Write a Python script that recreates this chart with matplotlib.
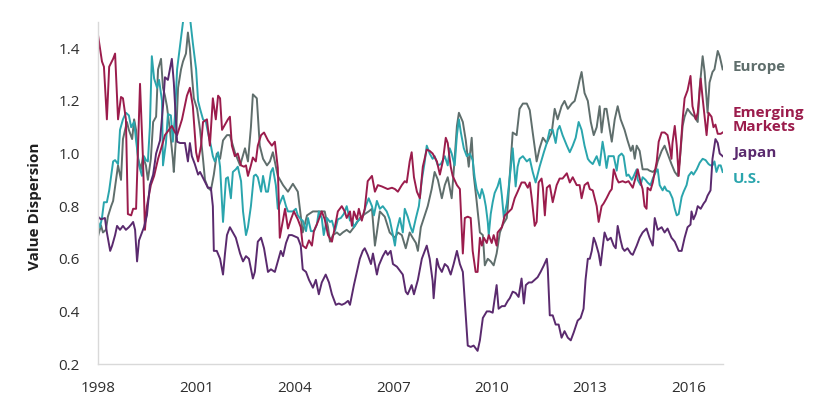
import matplotlib
matplotlib.use("Agg")
import matplotlib.pyplot as plt
import matplotlib.transforms as mtransforms

# Value dispersion by region (decimal years)
europe_years = [
    1998.00, 1998.09, 1998.15, 1998.24, 1998.30, 1998.40, 1998.46, 1998.55, 1998.61, 1998.70,
    1998.76, 1998.88, 1998.94, 1999.04, 1999.10, 1999.16, 1999.22, 1999.31, 1999.37, 1999.46,
    1999.52, 1999.61, 1999.68, 1999.77, 1999.83, 1999.92, 1999.98, 2000.04, 2000.10, 2000.19,
    2000.28, 2000.31, 2000.38, 2000.44, 2000.53, 2000.59, 2000.68, 2000.74, 2000.80, 2000.86,
    2000.92, 2001.02, 2001.11, 2001.20, 2001.26, 2001.35, 2001.44, 2001.53, 2001.62, 2001.72,
    2001.81, 2001.93, 2002.02, 2002.17, 2002.33, 2002.48, 2002.57, 2002.66, 2002.72, 2002.84,
    2002.93, 2003.03, 2003.15, 2003.24, 2003.33, 2003.48, 2003.64, 2003.79, 2003.94, 2004.09,
    2004.24, 2004.37, 2004.55, 2004.76, 2004.91, 2005.01, 2005.07, 2005.16, 2005.28, 2005.37,
    2005.46, 2005.58, 2005.68, 2005.83, 2005.98, 2006.13, 2006.25, 2006.35, 2006.44, 2006.50,
    2006.59, 2006.74, 2006.89, 2007.05, 2007.14, 2007.26, 2007.38, 2007.50, 2007.59, 2007.69,
    2007.75, 2007.84, 2007.96, 2008.05, 2008.17, 2008.26, 2008.36, 2008.48, 2008.57, 2008.66,
    2008.78, 2008.87, 2008.94, 2009.00, 2009.12, 2009.21, 2009.30, 2009.39, 2009.45, 2009.54,
    2009.64, 2009.73, 2009.79, 2009.88, 2009.97, 2010.06, 2010.15, 2010.25, 2010.34, 2010.46,
    2010.49, 2010.55, 2010.64, 2010.76, 2010.85, 2010.95, 2011.07, 2011.16, 2011.25, 2011.37,
    2011.46, 2011.56, 2011.68, 2011.83, 2011.92, 2012.01, 2012.13, 2012.22, 2012.32, 2012.44,
    2012.53, 2012.62, 2012.68, 2012.74, 2012.83, 2012.93, 2013.02, 2013.11, 2013.20, 2013.29,
    2013.35, 2013.44, 2013.50, 2013.60, 2013.66, 2013.75, 2013.84, 2013.93, 2014.05, 2014.14,
    2014.24, 2014.30, 2014.36, 2014.42, 2014.51, 2014.60, 2014.66, 2014.75, 2014.81, 2014.91,
    2015.00, 2015.06, 2015.18, 2015.27, 2015.36, 2015.48, 2015.58, 2015.67, 2015.73, 2015.82,
    2015.88, 2015.97, 2016.09, 2016.18, 2016.28, 2016.34, 2016.40, 2016.43, 2016.49, 2016.58,
    2016.64, 2016.73, 2016.79, 2016.89, 2016.95, 2017.04,
]
europe_values = [
    0.685, 0.727, 0.70, 0.71, 0.76, 0.80, 0.82, 0.90, 0.955, 0.90,
    1.055, 1.12, 1.09, 1.055, 1.13, 1.09, 0.98, 0.94, 0.99, 0.955,
    0.90, 0.98, 1.12, 1.14, 1.32, 1.36, 1.25, 1.22, 1.18, 1.09,
    0.98, 0.93, 1.07, 1.25, 1.32, 1.35, 1.38, 1.46, 1.40, 1.30,
    1.21, 1.17, 1.09, 0.98, 0.90, 0.87, 0.86, 0.92, 1.00, 0.98,
    1.05, 1.07, 1.07, 1.005, 0.955, 1.02, 0.97, 1.10, 1.225, 1.21,
    1.03, 0.98, 0.955, 0.97, 1.005, 0.915, 0.88, 0.855, 0.885, 0.855,
    0.70, 0.765, 0.78, 0.78, 0.78, 0.72, 0.665, 0.69, 0.70, 0.69,
    0.70, 0.71, 0.70, 0.725, 0.755, 0.77, 0.78, 0.79, 0.65, 0.70,
    0.78, 0.76, 0.70, 0.68, 0.70, 0.69, 0.64, 0.70, 0.68, 0.66,
    0.63, 0.72, 0.765, 0.80, 0.865, 0.93, 0.90, 0.83, 0.88, 0.91,
    0.83, 0.98, 1.105, 1.155, 1.12, 1.05, 0.95, 1.06, 0.92, 0.82,
    0.70, 0.69, 0.575, 0.60, 0.59, 0.575, 0.62, 0.70, 0.73, 0.755,
    0.80, 0.915, 1.08, 1.07, 1.17, 1.19, 1.19, 1.165, 1.08, 0.97,
    1.02, 1.06, 1.04, 1.08, 1.17, 1.13, 1.18, 1.20, 1.17, 1.19,
    1.20, 1.245, 1.28, 1.31, 1.23, 1.20, 1.12, 1.07, 1.10, 1.18,
    1.08, 1.17, 1.17, 1.09, 1.045, 1.13, 1.18, 1.13, 1.09, 1.05,
    1.01, 1.03, 0.98, 1.03, 1.01, 0.94, 0.94, 0.94, 0.935, 0.93,
    0.94, 0.97, 1.01, 1.03, 1.00, 0.96, 0.93, 0.915, 0.97, 1.105,
    1.14, 1.17, 1.15, 1.14, 1.12, 1.25, 1.33, 1.37, 1.31, 1.155,
    1.27, 1.31, 1.32, 1.39, 1.37, 1.32,
]

em_years = [
    1998.00, 1998.12, 1998.18, 1998.27, 1998.34, 1998.46, 1998.52, 1998.61, 1998.70, 1998.76,
    1998.85, 1998.91, 1999.01, 1999.07, 1999.16, 1999.28, 1999.37, 1999.43, 1999.49, 1999.61,
    1999.71, 1999.83, 1999.95, 2000.04, 2000.16, 2000.25, 2000.35, 2000.41, 2000.56, 2000.71,
    2000.80, 2000.89, 2000.99, 2001.05, 2001.14, 2001.20, 2001.32, 2001.41, 2001.50, 2001.59,
    2001.66, 2001.72, 2001.78, 2001.87, 2001.96, 2002.02, 2002.08, 2002.17, 2002.26, 2002.36,
    2002.45, 2002.51, 2002.57, 2002.66, 2002.72, 2002.81, 2002.87, 2002.97, 2003.06, 2003.18,
    2003.30, 2003.39, 2003.48, 2003.54, 2003.64, 2003.70, 2003.79, 2003.88, 2003.97, 2004.09,
    2004.18, 2004.24, 2004.34, 2004.43, 2004.52, 2004.58, 2004.70, 2004.82, 2004.91, 2005.01,
    2005.13, 2005.22, 2005.31, 2005.43, 2005.52, 2005.58, 2005.68, 2005.74, 2005.80, 2005.89,
    2005.95, 2006.04, 2006.13, 2006.22, 2006.35, 2006.44, 2006.53, 2006.65, 2006.74, 2006.83,
    2006.96, 2007.05, 2007.14, 2007.26, 2007.35, 2007.41, 2007.50, 2007.56, 2007.63, 2007.72,
    2007.81, 2007.90, 2008.02, 2008.11, 2008.20, 2008.33, 2008.42, 2008.51, 2008.60, 2008.66,
    2008.75, 2008.81, 2008.94, 2009.03, 2009.12, 2009.18, 2009.27, 2009.36, 2009.42, 2009.51,
    2009.57, 2009.64, 2009.70, 2009.76, 2009.85, 2009.91, 2010.00, 2010.06, 2010.15, 2010.18,
    2010.31, 2010.40, 2010.49, 2010.61, 2010.70, 2010.79, 2010.91, 2011.01, 2011.10, 2011.16,
    2011.22, 2011.31, 2011.37, 2011.43, 2011.52, 2011.56, 2011.62, 2011.68, 2011.77, 2011.86,
    2011.98, 2012.07, 2012.16, 2012.29, 2012.38, 2012.47, 2012.59, 2012.68, 2012.74, 2012.83,
    2012.93, 2012.99, 2013.08, 2013.20, 2013.26, 2013.35, 2013.41, 2013.50, 2013.60, 2013.66,
    2013.72, 2013.81, 2013.87, 2013.99, 2014.08, 2014.17, 2014.30, 2014.39, 2014.45, 2014.54,
    2014.60, 2014.66, 2014.72, 2014.75, 2014.84, 2014.91, 2015.03, 2015.09, 2015.18, 2015.27,
    2015.36, 2015.42, 2015.48, 2015.51, 2015.58, 2015.64, 2015.70, 2015.76, 2015.82, 2015.88,
    2015.97, 2016.06, 2016.12, 2016.22, 2016.28, 2016.37, 2016.43, 2016.49, 2016.55, 2016.61,
    2016.70, 2016.76, 2016.82, 2016.89, 2016.98, 2017.04,
]
em_values = [
    1.45, 1.35, 1.33, 1.13, 1.33, 1.36, 1.38, 1.13, 1.215, 1.21,
    1.13, 0.77, 0.765, 0.79, 0.79, 1.265, 0.98, 0.71, 0.80, 0.88,
    0.915, 0.98, 1.03, 1.07, 1.09, 1.105, 1.08, 1.07, 1.13, 1.22,
    1.25, 1.18, 1.005, 0.97, 1.03, 1.12, 1.13, 1.03, 1.21, 1.13,
    1.22, 1.21, 1.09, 1.11, 1.13, 1.14, 1.03, 0.99, 1.00, 0.955,
    0.95, 0.955, 0.915, 0.955, 0.985, 0.97, 1.03, 1.07, 1.08, 1.05,
    1.03, 1.045, 0.945, 0.68, 0.75, 0.79, 0.715, 0.75, 0.78, 0.75,
    0.72, 0.65, 0.64, 0.67, 0.65, 0.705, 0.74, 0.78, 0.75, 0.69,
    0.665, 0.72, 0.78, 0.80, 0.78, 0.755, 0.78, 0.725, 0.78, 0.75,
    0.79, 0.745, 0.79, 0.895, 0.915, 0.855, 0.88, 0.875, 0.87, 0.865,
    0.87, 0.865, 0.855, 0.88, 0.895, 0.89, 0.97, 1.005, 0.91, 0.855,
    0.83, 0.95, 1.015, 1.01, 1.00, 0.97, 0.92, 0.97, 1.06, 1.04,
    0.95, 0.915, 0.88, 0.865, 0.62, 0.755, 0.76, 0.755, 0.63, 0.55,
    0.55, 0.68, 0.65, 0.68, 0.66, 0.69, 0.66, 0.69, 0.65, 0.70,
    0.72, 0.765, 0.775, 0.79, 0.83, 0.855, 0.89, 0.89, 0.87, 0.89,
    0.83, 0.725, 0.74, 0.89, 0.905, 0.87, 0.765, 0.87, 0.88, 0.815,
    0.88, 0.905, 0.905, 0.925, 0.89, 0.91, 0.88, 0.88, 0.83, 0.88,
    0.89, 0.865, 0.86, 0.80, 0.74, 0.80, 0.81, 0.83, 0.855, 0.865,
    0.94, 0.905, 0.89, 0.895, 0.89, 0.895, 0.87, 0.91, 0.94, 0.89,
    0.865, 0.80, 0.79, 0.87, 0.86, 0.89, 0.97, 1.045, 1.08, 1.08,
    1.07, 1.03, 0.98, 1.04, 1.105, 1.03, 0.915, 1.02, 1.13, 1.21,
    1.24, 1.295, 1.18, 1.13, 1.155, 1.285, 1.21, 1.14, 1.07, 1.155,
    1.14, 1.10, 1.11, 1.075, 1.075, 1.08,
]

japan_years = [
    1998.00, 1998.09, 1998.21, 1998.27, 1998.37, 1998.43, 1998.52, 1998.58, 1998.67, 1998.76,
    1998.85, 1998.94, 1999.01, 1999.07, 1999.13, 1999.19, 1999.25, 1999.31, 1999.40, 1999.49,
    1999.58, 1999.68, 1999.77, 1999.89, 1999.98, 2000.04, 2000.13, 2000.19, 2000.25, 2000.31,
    2000.41, 2000.50, 2000.59, 2000.65, 2000.74, 2000.80, 2000.86, 2000.95, 2001.05, 2001.11,
    2001.23, 2001.35, 2001.44, 2001.50, 2001.53, 2001.62, 2001.72, 2001.81, 2001.87, 2001.93,
    2002.02, 2002.11, 2002.20, 2002.33, 2002.42, 2002.51, 2002.60, 2002.72, 2002.78, 2002.87,
    2002.97, 2003.06, 2003.18, 2003.27, 2003.39, 2003.48, 2003.57, 2003.64, 2003.73, 2003.82,
    2003.91, 2004.00, 2004.09, 2004.18, 2004.24, 2004.34, 2004.43, 2004.55, 2004.64, 2004.73,
    2004.82, 2004.94, 2005.04, 2005.13, 2005.25, 2005.34, 2005.43, 2005.52, 2005.62, 2005.68,
    2005.80, 2005.89, 2005.98, 2006.07, 2006.13, 2006.22, 2006.32, 2006.38, 2006.50, 2006.56,
    2006.68, 2006.77, 2006.83, 2006.92, 2006.99, 2007.11, 2007.20, 2007.29, 2007.38, 2007.44,
    2007.56, 2007.63, 2007.75, 2007.87, 2007.96, 2008.02, 2008.11, 2008.20, 2008.23, 2008.33,
    2008.39, 2008.48, 2008.57, 2008.66, 2008.75, 2008.84, 2008.94, 2009.03, 2009.12, 2009.18,
    2009.27, 2009.36, 2009.45, 2009.57, 2009.64, 2009.73, 2009.85, 2009.94, 2010.03, 2010.15,
    2010.21, 2010.31, 2010.40, 2010.49, 2010.55, 2010.64, 2010.73, 2010.82, 2010.91, 2010.98,
    2011.04, 2011.13, 2011.22, 2011.31, 2011.40, 2011.49, 2011.59, 2011.68, 2011.71, 2011.77,
    2011.86, 2011.95, 2012.04, 2012.13, 2012.22, 2012.32, 2012.41, 2012.50, 2012.62, 2012.71,
    2012.80, 2012.86, 2012.93, 2012.99, 2013.05, 2013.11, 2013.17, 2013.26, 2013.32, 2013.38,
    2013.44, 2013.53, 2013.63, 2013.72, 2013.78, 2013.84, 2013.93, 2013.99, 2014.05, 2014.14,
    2014.24, 2014.30, 2014.42, 2014.51, 2014.60, 2014.72, 2014.81, 2014.91, 2014.97, 2015.06,
    2015.18, 2015.27, 2015.36, 2015.48, 2015.58, 2015.70, 2015.79, 2015.88, 2015.97, 2016.06,
    2016.09, 2016.15, 2016.22, 2016.28, 2016.37, 2016.46, 2016.52, 2016.58, 2016.67, 2016.73,
    2016.82, 2016.89, 2016.95, 2017.04,
]
japan_values = [
    0.76, 0.75, 0.755, 0.70, 0.63, 0.65, 0.69, 0.725, 0.71, 0.725,
    0.71, 0.72, 0.73, 0.74, 0.71, 0.59, 0.67, 0.69, 0.72, 0.765,
    0.88, 0.92, 1.00, 1.05, 1.18, 1.29, 1.28, 1.32, 1.36, 1.27,
    1.045, 1.04, 1.04, 1.04, 0.97, 1.04, 0.99, 0.96, 0.92, 0.93,
    0.90, 0.87, 0.87, 0.80, 0.63, 0.63, 0.60, 0.54, 0.62, 0.69,
    0.72, 0.70, 0.68, 0.62, 0.59, 0.61, 0.60, 0.525, 0.55, 0.665,
    0.68, 0.64, 0.55, 0.56, 0.55, 0.59, 0.63, 0.61, 0.66, 0.69,
    0.69, 0.685, 0.68, 0.65, 0.56, 0.55, 0.52, 0.49, 0.52, 0.465,
    0.51, 0.54, 0.51, 0.465, 0.425, 0.43, 0.425, 0.43, 0.44, 0.425,
    0.50, 0.55, 0.60, 0.63, 0.64, 0.615, 0.58, 0.62, 0.54, 0.575,
    0.61, 0.63, 0.615, 0.63, 0.58, 0.57, 0.555, 0.54, 0.475, 0.465,
    0.50, 0.465, 0.52, 0.60, 0.63, 0.65, 0.60, 0.515, 0.45, 0.60,
    0.57, 0.55, 0.58, 0.57, 0.54, 0.58, 0.63, 0.58, 0.55, 0.44,
    0.27, 0.265, 0.27, 0.25, 0.29, 0.375, 0.40, 0.40, 0.395, 0.50,
    0.41, 0.42, 0.42, 0.44, 0.45, 0.475, 0.47, 0.455, 0.525, 0.43,
    0.50, 0.51, 0.51, 0.52, 0.53, 0.55, 0.575, 0.60, 0.56, 0.385,
    0.385, 0.35, 0.35, 0.30, 0.325, 0.30, 0.29, 0.32, 0.365, 0.375,
    0.41, 0.52, 0.60, 0.60, 0.63, 0.68, 0.66, 0.62, 0.575, 0.64,
    0.70, 0.67, 0.68, 0.65, 0.64, 0.725, 0.67, 0.64, 0.63, 0.64,
    0.62, 0.615, 0.65, 0.68, 0.70, 0.715, 0.68, 0.65, 0.755, 0.71,
    0.72, 0.70, 0.715, 0.68, 0.665, 0.63, 0.63, 0.68, 0.72, 0.73,
    0.78, 0.75, 0.77, 0.80, 0.79, 0.81, 0.82, 0.84, 0.86, 0.98,
    1.055, 1.04, 1.00, 0.99,
]

us_years = [
    1998.00, 1998.06, 1998.12, 1998.18, 1998.27, 1998.34, 1998.40, 1998.46, 1998.52, 1998.61,
    1998.67, 1998.76, 1998.85, 1998.94, 1999.01, 1999.10, 1999.16, 1999.25, 1999.34, 1999.40,
    1999.46, 1999.52, 1999.58, 1999.64, 1999.71, 1999.80, 1999.86, 1999.95, 1999.98, 2000.07,
    2000.13, 2000.22, 2000.28, 2000.35, 2000.41, 2000.50, 2000.59, 2000.65, 2000.74, 2000.80,
    2000.89, 2000.99, 2001.05, 2001.11, 2001.20, 2001.29, 2001.35, 2001.44, 2001.50, 2001.56,
    2001.66, 2001.72, 2001.81, 2001.90, 2001.96, 2002.05, 2002.11, 2002.20, 2002.26, 2002.36,
    2002.42, 2002.51, 2002.57, 2002.66, 2002.75, 2002.81, 2002.87, 2002.97, 2003.03, 2003.12,
    2003.18, 2003.27, 2003.33, 2003.42, 2003.48, 2003.57, 2003.64, 2003.73, 2003.79, 2003.88,
    2003.94, 2004.03, 2004.09, 2004.18, 2004.24, 2004.34, 2004.40, 2004.49, 2004.58, 2004.67,
    2004.73, 2004.82, 2004.88, 2004.98, 2005.07, 2005.13, 2005.22, 2005.31, 2005.40, 2005.49,
    2005.58, 2005.68, 2005.74, 2005.80, 2005.89, 2005.98, 2006.07, 2006.16, 2006.25, 2006.35,
    2006.41, 2006.50, 2006.59, 2006.68, 2006.80, 2006.89, 2006.99, 2007.05, 2007.11, 2007.20,
    2007.29, 2007.35, 2007.44, 2007.53, 2007.59, 2007.69, 2007.78, 2007.87, 2007.96, 2008.02,
    2008.11, 2008.20, 2008.26, 2008.36, 2008.45, 2008.57, 2008.66, 2008.72, 2008.78, 2008.87,
    2008.94, 2009.00, 2009.06, 2009.15, 2009.24, 2009.33, 2009.42, 2009.48, 2009.54, 2009.64,
    2009.70, 2009.76, 2009.82, 2009.88, 2009.91, 2009.97, 2010.03, 2010.09, 2010.18, 2010.25,
    2010.31, 2010.37, 2010.46, 2010.52, 2010.58, 2010.64, 2010.73, 2010.79, 2010.85, 2010.95,
    2011.07, 2011.16, 2011.25, 2011.34, 2011.46, 2011.59, 2011.68, 2011.77, 2011.86, 2011.95,
    2012.01, 2012.07, 2012.16, 2012.29, 2012.38, 2012.47, 2012.56, 2012.65, 2012.74, 2012.83,
    2012.93, 2012.99, 2013.08, 2013.20, 2013.29, 2013.38, 2013.44, 2013.50, 2013.56, 2013.66,
    2013.72, 2013.81, 2013.87, 2013.96, 2014.02, 2014.11, 2014.17, 2014.27, 2014.33, 2014.42,
    2014.45, 2014.54, 2014.60, 2014.69, 2014.75, 2014.84, 2014.91, 2015.00, 2015.06, 2015.12,
    2015.21, 2015.27, 2015.33, 2015.42, 2015.51, 2015.58, 2015.64, 2015.70, 2015.79, 2015.85,
    2015.94, 2016.00, 2016.09, 2016.15, 2016.25, 2016.34, 2016.43, 2016.52, 2016.61, 2016.67,
    2016.73, 2016.79, 2016.85, 2016.92, 2016.98, 2017.04,
]
us_values = [
    0.74, 0.72, 0.755, 0.815, 0.815, 0.86, 0.915, 0.97, 0.975, 0.96,
    1.09, 1.13, 1.155, 1.145, 1.10, 1.12, 1.05, 0.955, 0.915, 0.99,
    0.975, 0.97, 1.10, 1.37, 1.285, 1.25, 1.28, 1.20, 0.955, 1.04,
    1.15, 1.145, 1.045, 1.15, 1.32, 1.41, 1.50, 1.53, 1.55, 1.52,
    1.42, 1.32, 1.20, 1.17, 1.13, 1.12, 1.08, 1.03, 0.99, 0.97,
    1.005, 0.95, 0.74, 0.905, 0.91, 0.83, 0.93, 0.94, 0.95, 0.895,
    0.78, 0.69, 0.72, 0.80, 0.915, 0.92, 0.91, 0.855, 0.915, 0.855,
    0.855, 0.93, 0.945, 0.88, 0.79, 0.82, 0.84, 0.80, 0.78, 0.78,
    0.78, 0.79, 0.765, 0.75, 0.745, 0.705, 0.755, 0.705, 0.705, 0.73,
    0.78, 0.755, 0.69, 0.755, 0.74, 0.745, 0.705, 0.75, 0.755, 0.77,
    0.80, 0.745, 0.75, 0.72, 0.74, 0.75, 0.76, 0.80, 0.83, 0.80,
    0.765, 0.82, 0.79, 0.80, 0.78, 0.75, 0.69, 0.65, 0.71, 0.755,
    0.70, 0.79, 0.76, 0.72, 0.70, 0.755, 0.80, 0.90, 0.97, 1.03,
    1.00, 0.98, 0.99, 0.955, 0.96, 0.99, 0.955, 1.02, 1.00, 0.955,
    1.07, 1.13, 1.08, 1.02, 0.99, 1.00, 0.975, 0.91, 0.865, 0.83,
    0.865, 0.84, 0.80, 0.74, 0.69, 0.77, 0.815, 0.85, 0.875, 0.905,
    0.84, 0.755, 0.81, 0.875, 0.945, 1.02, 0.875, 0.95, 0.98, 0.99,
    0.97, 0.98, 0.93, 0.89, 0.95, 1.005, 1.04, 1.09, 1.09, 1.04,
    1.09, 1.105, 1.07, 1.03, 1.005, 1.03, 1.06, 1.12, 1.09, 1.03,
    0.98, 0.97, 0.96, 0.99, 0.955, 1.045, 1.00, 0.945, 0.99, 0.99,
    0.99, 0.935, 0.99, 1.00, 0.99, 0.915, 0.92, 0.90, 0.915, 0.94,
    0.90, 0.88, 0.91, 0.90, 0.89, 0.88, 0.905, 0.93, 0.94, 0.88,
    0.86, 0.875, 0.86, 0.855, 0.83, 0.79, 0.765, 0.77, 0.835, 0.855,
    0.88, 0.915, 0.93, 0.92, 0.94, 0.965, 0.98, 0.975, 0.96, 0.955,
    0.955, 0.97, 0.93, 0.955, 0.955, 0.93,
]

series = [
    ("Europe", europe_years, europe_values, "#5f6e6c"),
    ("U.S.", us_years, us_values, "#2aa5ad"),
    ("Emerging\nMarkets", em_years, em_values, "#9b1c4c"),
    ("Japan", japan_years, japan_values, "#5a2a6e"),
]
label_levels = {"Europe": 1.33, "Emerging\nMarkets": 1.128, "Japan": 1.003, "U.S.": 0.905}

xticks = [1998, 2001, 2004, 2007, 2010, 2013, 2016]
yticks = [0.2, 0.4, 0.6, 0.8, 1.0, 1.2, 1.4]


def main() -> None:
    plt.rcParams["font.family"] = ["Open Sans", "DejaVu Sans"]

    fig = plt.figure(figsize=(8.4, 4.2), dpi=100)
    ax = fig.add_axes([0.1167, 0.1333, 0.7440, 0.8143])

    for name, years, values, color in series:
        ax.plot(years, values, color=color, lw=1.4, solid_joinstyle="round")

    trans = mtransforms.blended_transform_factory(ax.transAxes, ax.transData)
    for name, years, values, color in series:
        ax.text(1.016, label_levels[name], name, transform=trans, color=color,
                fontsize=11, fontweight="bold", ha="left", va="center", linespacing=0.95)

    ax.set_xlim(1998, 2017.05)
    ax.set_ylim(0.2, 1.5)
    ax.set_xticks(xticks)
    ax.set_xticklabels([str(t) for t in xticks])
    ax.set_yticks(yticks)
    ax.set_yticklabels([f"{t:.1f}" for t in yticks])
    ax.tick_params(axis="both", length=0, labelsize=11, labelcolor="#2e2e2e")
    ax.tick_params(axis="y", pad=13)
    ax.tick_params(axis="x", pad=12)
    ax.set_ylabel("Value Dispersion", fontsize=11, fontweight="bold", color="#1e1e1e")
    ax.yaxis.set_label_coords(-0.09, 0.462)

    for side in ("top", "right"):
        ax.spines[side].set_visible(False)
    for side in ("left", "bottom"):
        ax.spines[side].set_color("#d9d9d9")
        ax.spines[side].set_linewidth(1.0)

    fig.savefig("out.png", dpi=100, facecolor="white")
    plt.close(fig)


if __name__ == "__main__":
    main()
